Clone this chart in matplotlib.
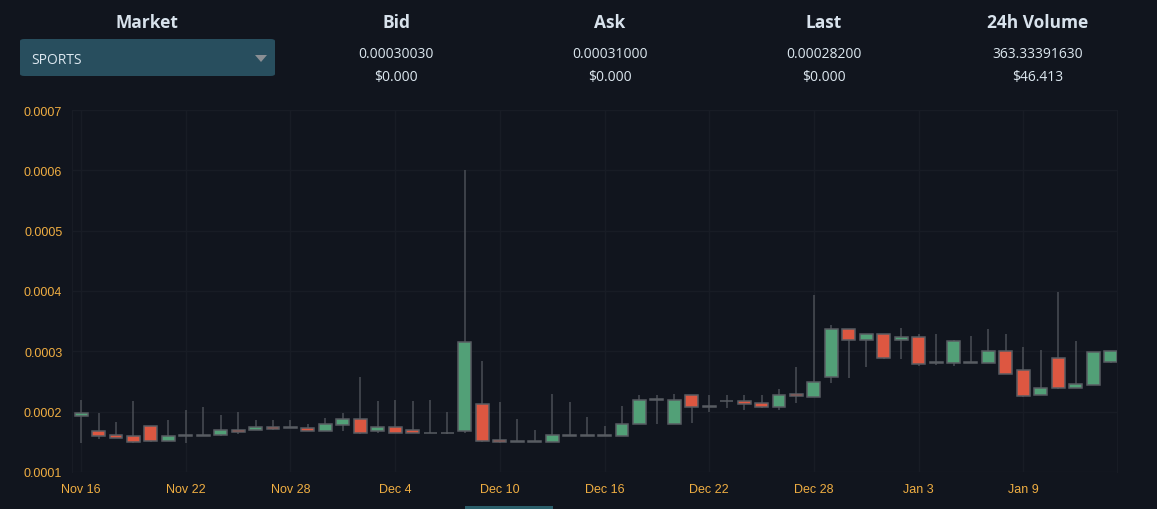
import numpy as np
import pandas as pd
import matplotlib
matplotlib.use("Agg")
import matplotlib.pyplot as plt
from matplotlib.patches import FancyBboxPatch, Polygon, Rectangle

# daily candles, prices in millionths (1e-6)
dates = pd.date_range("2023-11-16", "2024-01-14", freq="D")
opens = [192, 168, 161, 159, 176, 152, 160, 160, 161, 170,
         170, 175, 173.5, 173, 168, 178, 188, 168, 174, 169,
         164, 164, 168, 213, 153, 150, 150, 149, 160, 160,
         160, 160, 179, 220, 179, 227, 208, 217, 218, 215,
         208, 229, 225, 258, 337, 318, 328, 318, 324, 281,
         280, 281, 280, 300, 269, 228, 289, 240, 245, 283]
closes = [198, 159, 157, 149, 152, 159, 160, 162, 170, 167,
          174, 172, 173.5, 168, 180, 188, 165, 174, 164, 165,
          164, 165, 315, 152, 149, 150, 150, 161, 160, 160,
          160, 180, 220, 220, 220, 208, 208, 217, 213, 208,
          228, 226, 249, 337, 318, 328, 289, 324, 279, 281,
          317, 281, 300, 263, 226, 240, 240, 246, 299, 300]
highs = [219, 198, 183, 217, 177, 187, 202, 208, 194, 199,
         187, 186, 186, 180, 189, 197, 257, 218, 219, 217,
         219, 200, 600, 284, 216, 188, 169, 229, 216, 191,
         177, 209, 228, 228, 229, 227, 227, 227, 227, 227,
         238, 274, 393, 343, 337, 328, 328, 339, 328, 328,
         319, 325, 337, 328, 308, 303, 399, 317, 299, 300]
lows = [148, 154, 157, 148, 150, 151, 148, 160, 160, 163,
        169, 170, 173, 168, 168, 168, 163, 165, 164, 164,
        164, 163, 164, 150, 148, 150, 150, 149, 160, 160,
        160, 160, 179, 179, 179, 181, 200, 206, 203, 206,
        203, 215, 225, 248, 255, 274, 287, 287, 276, 277,
        276, 281, 280, 263, 225, 228, 238, 240, 245, 281]

y_ticks = [0.0001, 0.0002, 0.0003, 0.0004, 0.0005, 0.0006, 0.0007]
x_tick_every = 6

headers = ["Market", "Bid", "Ask", "Last", "24h Volume"]
market_name = "SPORTS"
quote_values = ["0.00030030", "0.00031000", "0.00028200", "363.33391630"]
quote_usd = ["$0.000", "$0.000", "$0.000", "$46.413"]

BG = "#11151e"
GRID = "#181c25"
GREEN = "#52a077"
RED = "#dd5741"
EDGE = "#585c62"
WICK = "#4a4e55"
ORANGE = "#f0ae42"

W, H = 1157, 510
fig = plt.figure(figsize=(W / 100, H / 100), dpi=100, facecolor=BG)


def px(x, y):
    """pixel position (from top left) to figure fraction"""
    return x / W, 1 - y / H


# chart area
left, right, top, bottom = 72, 1117, 111, 473
ax = fig.add_axes([left / W, 1 - bottom / H, (right - left) / W, (bottom - top) / H])
ax.set_facecolor(BG)

o = np.array(opens) * 1e-6
c = np.array(closes) * 1e-6
hi = np.array(highs) * 1e-6
lo = np.array(lows) * 1e-6
x = np.arange(len(dates))

up = c >= o
colors = np.where(up, GREEN, RED)
body_lo = np.minimum(o, c)
body_h = np.maximum(np.abs(c - o), 1.2e-6)

ax.vlines(x, lo, hi, color=WICK, lw=1.1, zorder=2)
ax.bar(x, body_h, bottom=body_lo, width=0.74, color=colors,
       edgecolor=EDGE, linewidth=1.1, zorder=3)

ax.set_xlim(-0.52, 59.37)
ax.set_ylim(0.0001, 0.0007)
ax.set_yticks(y_ticks)
ax.set_yticklabels([f"{v:.4f}" for v in y_ticks])
tick_idx = x[::x_tick_every]
ax.set_xticks(tick_idx)
ax.set_xticklabels([d.strftime("%b %-d") for d in dates[::x_tick_every]])
ax.grid(True, color=GRID, lw=1)
ax.set_axisbelow(True)
for name, s in ax.spines.items():
    s.set_visible(name in ("left", "right"))
    s.set_color(GRID)
ax.tick_params(length=0, colors=ORANGE, labelsize=9)
ax.tick_params(axis="y", pad=7)
ax.tick_params(axis="x", pad=8)
for lab in ax.get_xticklabels() + ax.get_yticklabels():
    lab.set_fontfamily("Liberation Sans")

# header
head_x = [147, 396, 610, 824, 1038]
for hx, name in zip(head_x, headers):
    fig.text(*px(hx, 23), name, ha="center", va="center", color="#d8e2ec",
             fontsize=12.5, fontweight="bold", family="Open Sans")
for hx, v, usd in zip(head_x[1:], quote_values, quote_usd):
    fig.text(*px(hx, 54), v, ha="center", va="center", color="#dde8f0",
             fontsize=10, family="Open Sans")
    fig.text(*px(hx, 78), usd, ha="center", va="center", color="#dde8f0",
             fontsize=10, family="Open Sans")

# market dropdown
x0, y0 = px(20, 77)
box = FancyBboxPatch((x0, y0), 255 / W, 37 / H, boxstyle="round,pad=0,rounding_size=0.004",
                     transform=fig.transFigure, facecolor="#284e5e", edgecolor="none")
fig.patches.append(box)
fig.text(*px(31, 61), market_name, ha="left", va="center", color="#dde8f0",
         fontsize=10, family="Open Sans")
tri = Polygon([px(255, 56), px(267, 56), px(261, 63)], closed=True,
              transform=fig.transFigure, facecolor="#8a8f94", edgecolor="none")
fig.patches.append(tri)

# little scroll handle at the bottom
sx, sy = px(465, 510)
fig.patches.append(Rectangle((sx, sy), 88 / W, 3 / H, transform=fig.transFigure,
                             facecolor="#2b5f6b", edgecolor="none"))

fig.savefig("out.png", dpi=100, facecolor=BG)
